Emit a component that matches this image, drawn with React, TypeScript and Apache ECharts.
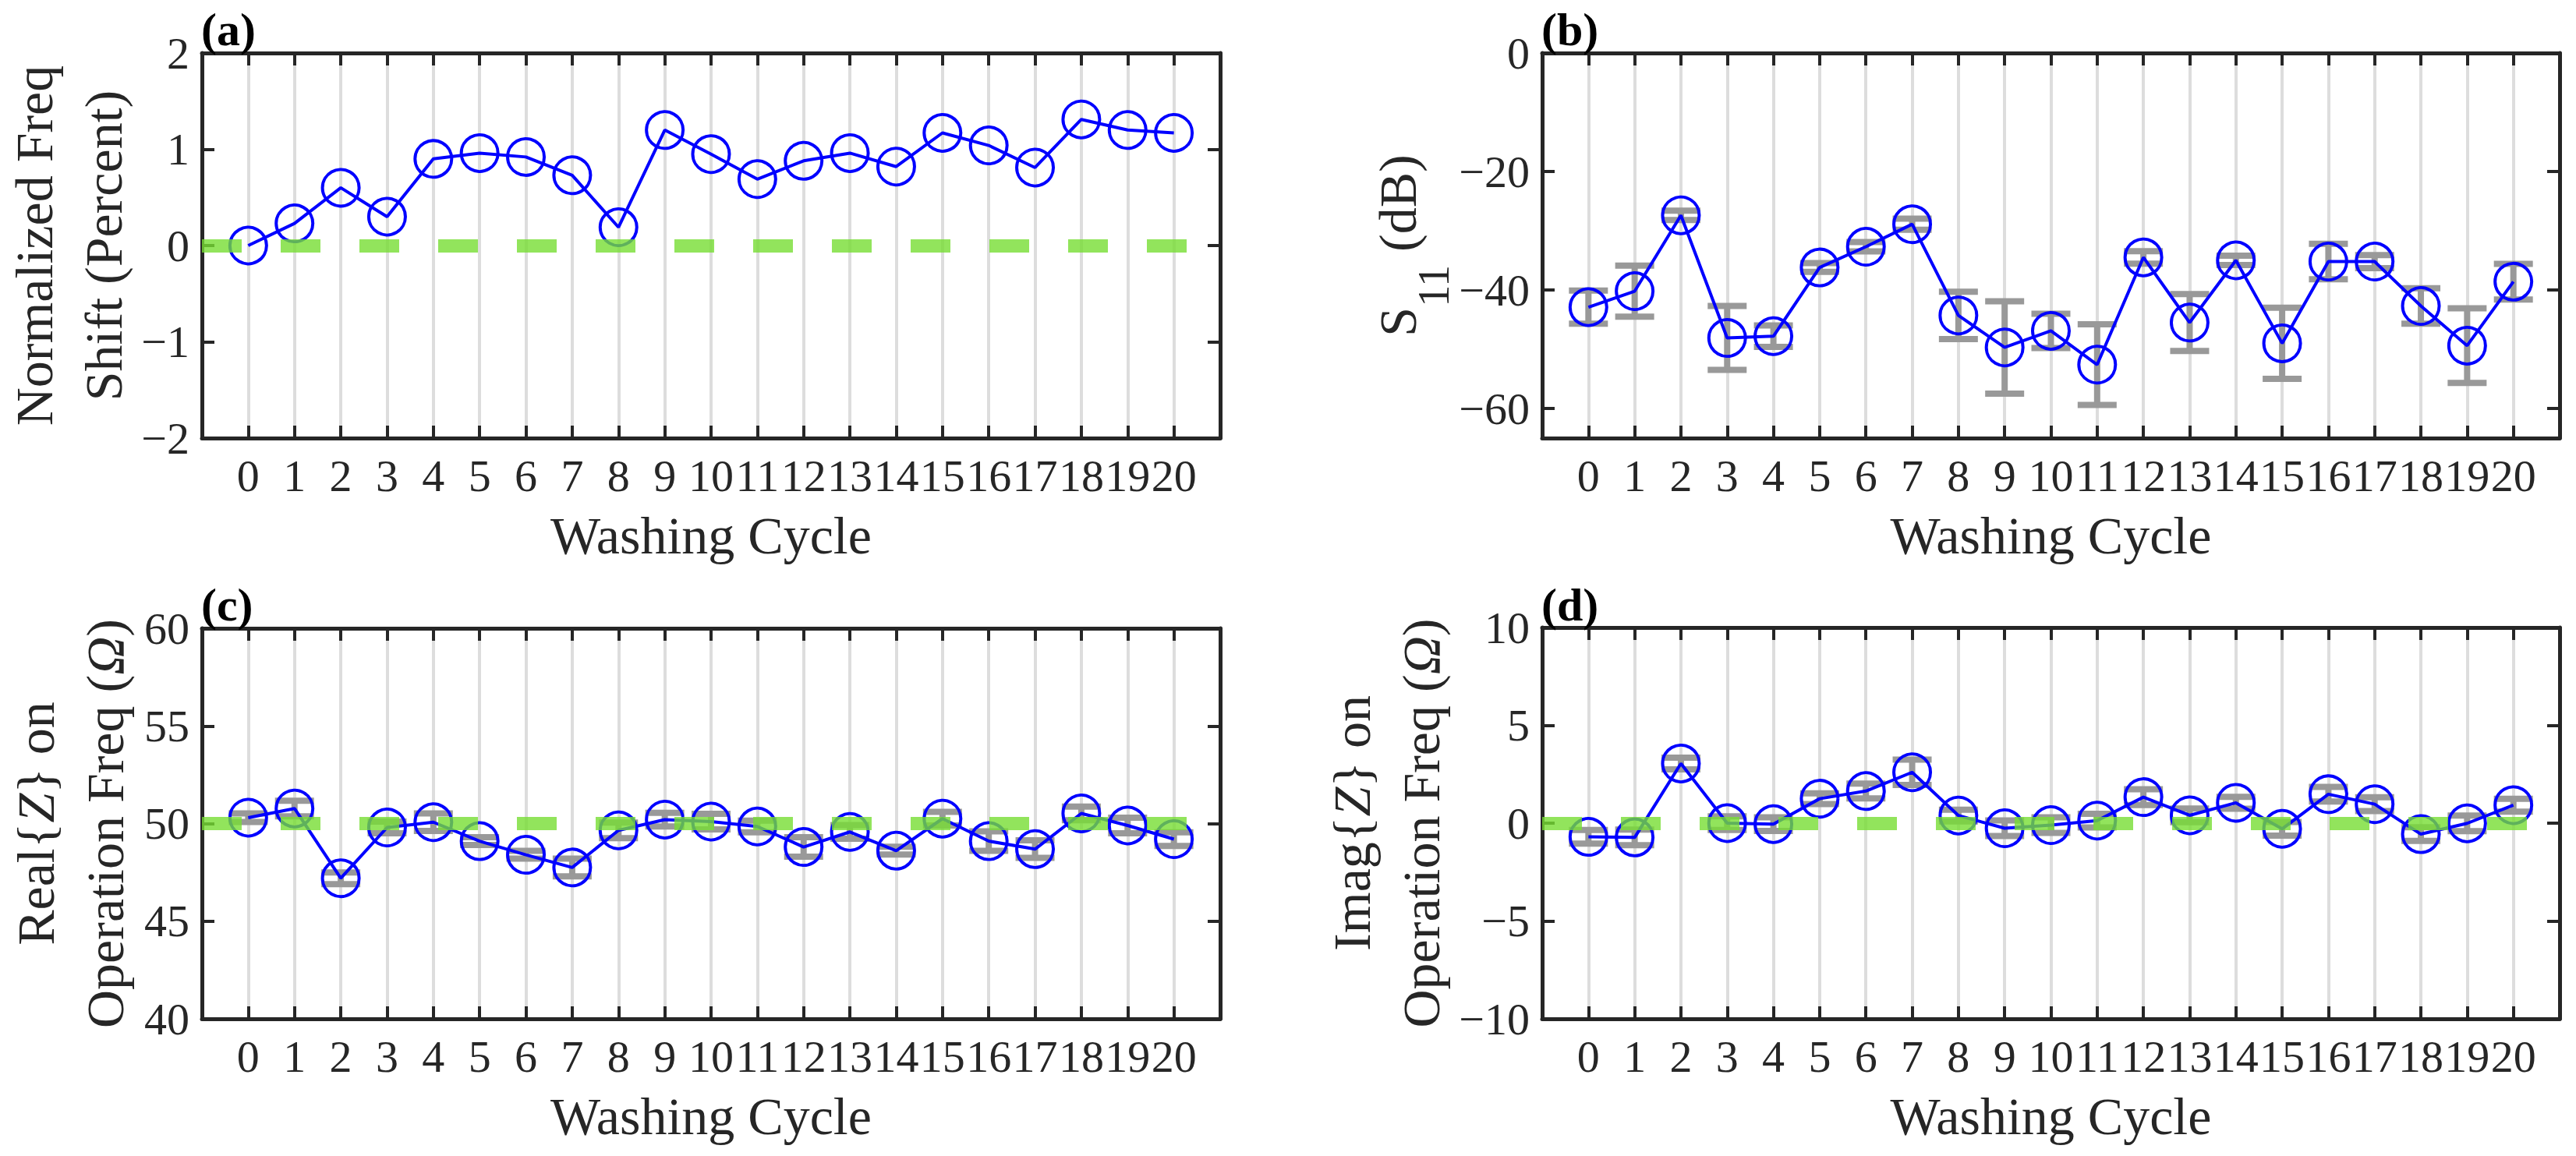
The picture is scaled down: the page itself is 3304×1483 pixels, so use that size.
import React, { useEffect, useRef } from 'react';
import * as echarts from 'echarts';

const cycles = [0, 1, 2, 3, 4, 5, 6, 7, 8, 9, 10, 11, 12, 13, 14, 15, 16, 17, 18, 19, 20];

const freqShift = [0.0, 0.23, 0.6, 0.3, 0.9, 0.96, 0.92, 0.73, 0.19, 1.2, 0.95, 0.69, 0.88, 0.96, 0.82, 1.17, 1.04, 0.81, 1.31, 1.2, 1.17];

const s11Mean = [-42.9, -40.2, -27.4, -48.1, -47.8, -36.2, -32.7, -28.9, -44.3, -49.7, -46.9, -52.6, -34.5, -45.5, -35.0, -49.0, -35.2, -35.2, -42.7, -49.4, -38.6];
const s11Err = [2.8, 4.3, 0.8, 5.4, 1.8, 0.75, 0.8, 0.95, 4.0, 7.8, 2.9, 6.8, 1.05, 4.8, 0.8, 6.0, 3.0, 1.1, 3.0, 6.3, 3.0];

const realZMean = [50.3, 50.77, 47.2, 49.8, 50.07, 49.1, 48.4, 47.75, 49.65, 50.2, 50.1, 49.85, 48.8, 49.57, 48.61, 50.25, 49.1, 48.69, 50.52, 49.9, 49.2];
const realZErr = [0.22, 0.4, 0.3, 0.3, 0.45, 0.2, 0.2, 0.45, 0.4, 0.35, 0.4, 0.3, 0.5, 0.35, 0.2, 0.35, 0.5, 0.45, 0.35, 0.4, 0.35];

const imagZMean = [-0.7, -0.73, 3.05, 0.0, -0.05, 1.25, 1.64, 2.6, 0.39, -0.26, -0.1, 0.13, 1.33, 0.4, 1.04, -0.29, 1.48, 0.97, -0.56, -0.01, 0.92];
const imagZErr = [0.35, 0.4, 0.3, 0.35, 0.35, 0.27, 0.38, 0.65, 0.3, 0.4, 0.4, 0.35, 0.4, 0.35, 0.3, 0.35, 0.37, 0.35, 0.35, 0.4, 0.33];

const ticksA = [-2, -1, 0, 1, 2];
const ticksB = [-60, -40, -20, 0];
const ticksC = [40, 45, 50, 55, 60];
const ticksD = [-10, -5, 0, 5, 10];

const xLabel = 'Washing Cycle';
const panelLabels = ['(a)', '(b)', '(c)', '(d)'];

const FONT = "'Liberation Serif', 'Times New Roman', Times, serif";
const TXT = '#262626';
const BLUE = '#0000ff';
const GREY = '#999999';
const GREEN = 'rgba(119,221,51,0.8)';

type Panel = {
  grid: { left: number; top: number; width: number; height: number };
  ymin: number;
  ymax: number;
  interval: number;
  ticks: number[];
  name: string;
  nameGap: number;
  mean: number[];
  err: number[] | null;
  ref: number | null;
  label: string;
  labelPos: [number, number];
};

const panels: Panel[] = [
  {
    grid: { left: 259, top: 68, width: 1306, height: 494 },
    ymin: -2, ymax: 2, interval: 1, ticks: ticksA,
    name: 'Normalized Freq\nShift (Percent)', nameGap: 80,
    mean: freqShift, err: null, ref: 0, label: panelLabels[0], labelPos: [258, 38],
  },
  {
    grid: { left: 1978, top: 68, width: 1305, height: 494 },
    ymin: -65, ymax: 0, interval: 5, ticks: ticksB,
    name: '{s|S}{sub|11}{s| (dB)}', nameGap: 116,
    mean: s11Mean, err: s11Err, ref: null, label: panelLabels[1], labelPos: [1977, 38],
  },
  {
    grid: { left: 259, top: 806, width: 1306, height: 501 },
    ymin: 40, ymax: 60, interval: 5, ticks: ticksC,
    name: 'Real{{i|Z}} on\nOperation Freq ({i|\u03A9})', nameGap: 80,
    mean: realZMean, err: realZErr, ref: 50, label: panelLabels[2], labelPos: [258, 776],
  },
  {
    grid: { left: 1978, top: 805, width: 1305, height: 502 },
    ymin: -10, ymax: 10, interval: 5, ticks: ticksD,
    name: 'Imag{{i|Z}} on\nOperation Freq ({i|\u03A9})', nameGap: 111,
    mean: imagZMean, err: imagZErr, ref: 0, label: panelLabels[3], labelPos: [1977, 776],
  },
];

const fmtMinus = (v: number) => String(v).replace('-', '\u2212');

function buildOption() {
  const grid: any[] = [];
  const xAxis: any[] = [];
  const yAxis: any[] = [];
  const series: any[] = [];
  const graphic: any[] = [];

  const axisLine = { show: true, onZero: false, lineStyle: { color: TXT, width: 5 } };
  const axisTick = { show: true, inside: true, length: 16, lineStyle: { color: TXT, width: 4 } };

  panels.forEach((p, i) => {
    grid.push({ ...p.grid, containLabel: false, outerBoundsMode: 'none' });
    xAxis.push({
      type: 'value', gridIndex: i, position: 'bottom', min: -1, max: 21, interval: 1,
      axisLine, axisTick,
      axisLabel: {
        show: true, margin: 19, fontFamily: FONT, fontSize: 58, color: TXT,
        formatter: (v: number) => (v < cycles[0] || v > cycles[cycles.length - 1] ? '' : String(v)),
      },
      splitLine: { show: true, lineStyle: { color: '#dddddd', width: 4 } },
      name: xLabel, nameLocation: 'middle', nameGap: 91,
      nameTextStyle: { fontFamily: FONT, fontSize: 68, color: TXT },
    });
    xAxis.push({
      type: 'value', gridIndex: i, position: 'top', min: -1, max: 21, interval: 1,
      axisLine, axisTick, axisLabel: { show: false }, splitLine: { show: false },
    });
    const yBase: any = {
      type: 'value', gridIndex: i, min: p.ymin, max: p.ymax, interval: p.interval,
      axisLine,
      axisTick: { ...axisTick, customValues: p.ticks },
      splitLine: { show: false },
    };
    yAxis.push({
      ...yBase, position: 'left',
      axisLabel: {
        show: true, margin: 16, fontFamily: FONT, fontSize: 58, color: TXT,
        customValues: p.ticks, formatter: (v: number) => fmtMinus(v),
      },
      name: p.name, nameLocation: 'middle', nameGap: p.nameGap, nameRotate: 90,
      nameTextStyle: {
        fontFamily: FONT, fontSize: 68, lineHeight: 89, color: TXT,
        rich: {
          s: { fontFamily: FONT, fontSize: 68, lineHeight: 89, verticalAlign: 'top', color: TXT },
          sub: { fontFamily: FONT, fontSize: 56, lineHeight: 56, padding: [52, 0, 0, 0], verticalAlign: 'top', color: TXT },
          i: { fontFamily: FONT, fontSize: 68, lineHeight: 89, fontStyle: 'italic', color: TXT },
        },
      },
    });
    yAxis.push({ ...yBase, position: 'right', axisLabel: { show: false } });

    const xi = i * 2;
    const yi = i * 2;

    if (p.err) {
      const errData = cycles.map((c, k) => [c, p.mean[k] - p.err![k], p.mean[k] + p.err![k]]);
      series.push({
        type: 'custom', xAxisIndex: xi, yAxisIndex: yi, z: 2, silent: true,
        data: errData,
        encode: { x: 0, y: [1, 2] },
        renderItem: (params: any, api: any) => {
          const x = api.value(0);
          const lo = api.coord([x, api.value(1)]);
          const hi = api.coord([x, api.value(2)]);
          const half = 25;
          const st = { stroke: GREY, lineWidth: 8 };
          return {
            type: 'group',
            children: [
              { type: 'line', shape: { x1: lo[0], y1: lo[1], x2: hi[0], y2: hi[1] }, style: st },
              { type: 'line', shape: { x1: lo[0] - half, y1: lo[1], x2: lo[0] + half, y2: lo[1] }, style: st },
              { type: 'line', shape: { x1: hi[0] - half, y1: hi[1], x2: hi[0] + half, y2: hi[1] }, style: st },
            ],
          };
        },
      });
    }

    series.push({
      type: 'line', xAxisIndex: xi, yAxisIndex: yi, z: 3,
      data: cycles.map((c, k) => [c, p.mean[k]]),
      symbol: 'circle', symbolSize: 47, showSymbol: true,
      lineStyle: { color: BLUE, width: 4 },
      itemStyle: { color: 'rgba(0,0,0,0)', borderColor: BLUE, borderWidth: 4 },
      silent: true,
    });

    if (p.ref !== null) {
      series.push({
        type: 'line', xAxisIndex: xi, yAxisIndex: yi, z: 5, data: [], silent: true,
        markLine: {
          silent: true, symbol: ['none', 'none'], label: { show: false }, z: 5,
          lineStyle: { color: GREEN, width: 17, type: [51, 50], cap: 'butt' },
          emphasis: { disabled: true },
          data: [{ yAxis: p.ref }],
        },
      });
    }

    graphic.push({
      type: 'text', x: p.labelPos[0], y: p.labelPos[1], z: 10,
      style: { text: p.label, fontFamily: FONT, fontSize: 60, fontWeight: 'bold', fill: '#000', verticalAlign: 'middle', align: 'left' },
    });
  });

  return { animation: false, backgroundColor: '#ffffff', grid, xAxis, yAxis, series, graphic };
}

export default function App() {
  const ref = useRef<HTMLDivElement>(null);
  useEffect(() => {
    document.body.style.margin = '0';
    const chart = echarts.init(ref.current!, null, { renderer: 'svg' });
    chart.setOption(buildOption() as any);
    return () => chart.dispose();
  }, []);
  return <div ref={ref} style={{ position: 'absolute', left: 0, top: 0, width: 3304, height: 1483 }} />;
}
